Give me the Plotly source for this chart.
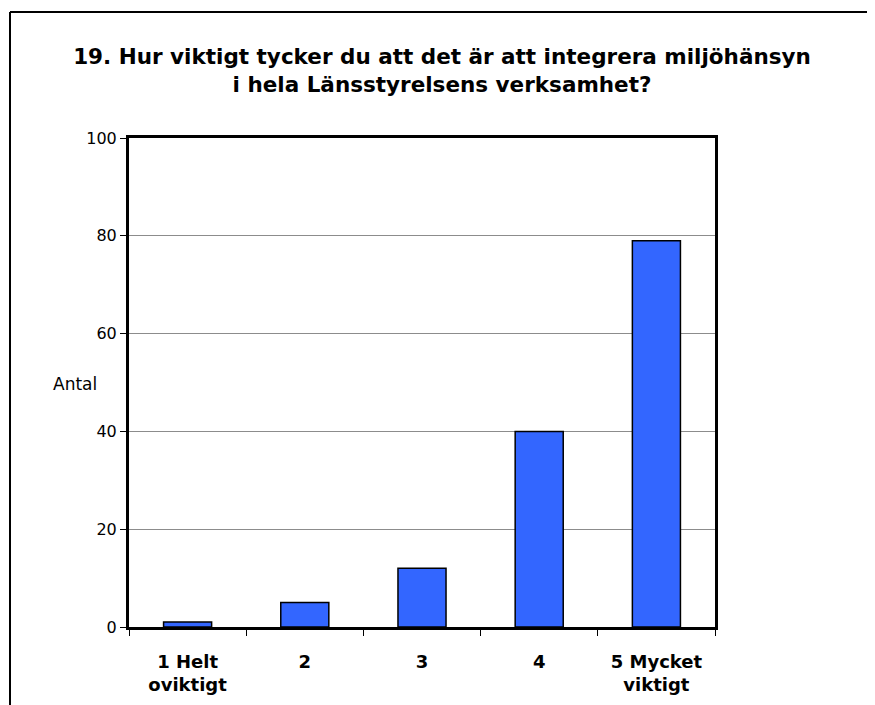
import plotly.graph_objects as go

categories = ["1 Helt<br>oviktigt", "2", "3", "4", "5 Mycket<br>viktigt"]
values = [1, 5, 12, 40, 79]
y_ticks = [0, 20, 40, 60, 80, 100]

# page body has an 8px margin; shift target pixel positions accordingly
OFF = 8
W, H = 875, 705
L, R, T, B = 129 - OFF, 875 - (715 - OFF), 138 - OFF, 705 - (627 - OFF)
pw, ph = W - L - R, H - T - B

def px(x):
    return (x - OFF - L) / pw

def py(y):
    return (H - B - (y - OFF)) / ph

FONT = "DejaVu Sans"

fig = go.Figure(go.Bar(
    x=categories, y=values,
    marker=dict(color="#3366FF", line=dict(color="black", width=1.5)),
))

fig.update_layout(
    width=W, height=H,
    margin=dict(l=L, r=R, t=T, b=B),
    paper_bgcolor="white", plot_bgcolor="white",
    bargap=0.59,
    showlegend=False,
    font=dict(family=FONT, color="black"),
    title=dict(
        text="<b>19. Hur viktigt tycker du att det är att integrera miljöhänsyn<br>i hela Länsstyrelsens verksamhet?</b>",
        x=(442 - OFF) / W, xref="container", xanchor="center",
        y=1 - (64 - OFF) / H, yref="container", yanchor="middle",
        font=dict(family=FONT, size=21.5, color="black"),
    ),
    xaxis=dict(
        type="category",
        showline=True, linecolor="black", linewidth=3, mirror=True,
        ticks="outside", ticklen=6, tickwidth=1, tickcolor="black",
        tickson="boundaries",
        showgrid=False,
        tickfont=dict(family=FONT, size=18, color="black", weight="bold"),
        ticklabelstandoff=16,
    ),
    yaxis=dict(
        range=[0, 100],
        tickvals=y_ticks,
        showline=True, linecolor="black", linewidth=3, mirror=True,
        ticks="outside", ticklen=6, tickwidth=1, tickcolor="black",
        showgrid=True, gridcolor="#8c8c8c", gridwidth=1,
        zeroline=False,
        tickfont=dict(family=FONT, size=16, color="black"),
    ),
    annotations=[dict(
        text="Antal", xref="paper", yref="paper",
        x=px(75), y=py(384), xanchor="center", yanchor="middle",
        showarrow=False, font=dict(family=FONT, size=17, color="black"),
    )],
    shapes=[
        dict(type="line", xref="paper", yref="paper",
             x0=px(10), y0=py(12), x1=px(890), y1=py(12),
             line=dict(color="black", width=2)),
        dict(type="line", xref="paper", yref="paper",
             x0=px(10), y0=py(12), x1=px(10), y1=py(720),
             line=dict(color="black", width=2)),
    ],
)

fig.write_html("out.html")
